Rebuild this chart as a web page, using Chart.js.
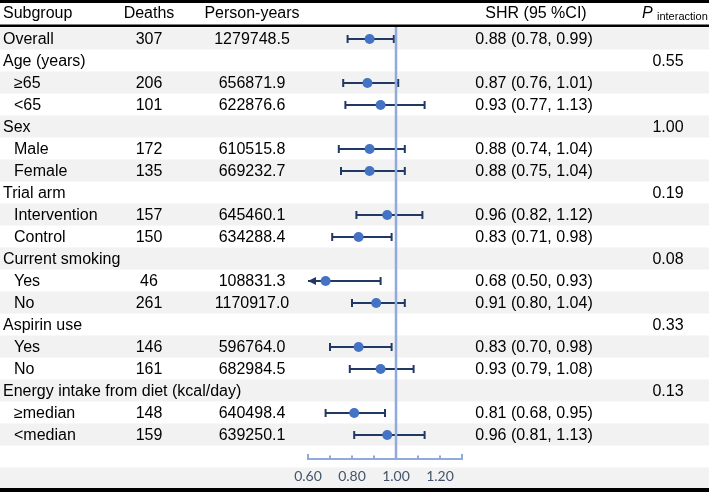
<!DOCTYPE html>
<html><head><meta charset="utf-8">
<script src="https://cdn.jsdelivr.net/npm/chart.js@4/dist/chart.umd.min.js"></script>
<style>html,body{margin:0;padding:0;background:#fff;}canvas{display:block;}</style>
</head><body>
<canvas id="c" width="709" height="492"></canvas>
<script>
const subgroups = ['Overall','Age (years)','\u226565','<65','Sex','Male','Female','Trial arm','Intervention','Control','Current smoking','Yes','No','Aspirin use','Yes','No','Energy intake from diet (kcal/day)','\u2265median','<median'];
const isSubRow = [false,false,true,true,false,true,true,false,true,true,false,true,true,false,true,true,false,true,true];
const deaths = ['307','','206','101','','172','135','','157','150','','46','261','','146','161','','148','159'];
const personYears = ['1279748.5','','656871.9','622876.6','','610515.8','669232.7','','645460.1','634288.4','','108831.3','1170917.0','','596764.0','682984.5','','640498.4','639250.1'];
const shr =   [0.88,null,0.87,0.93,null,0.88,0.88,null,0.96,0.83,null,0.68,0.91,null,0.83,0.93,null,0.81,0.96];
const lower = [0.78,null,0.76,0.77,null,0.74,0.75,null,0.82,0.71,null,0.50,0.80,null,0.70,0.79,null,0.68,0.81];
const upper = [0.99,null,1.01,1.13,null,1.04,1.04,null,1.12,0.98,null,0.93,1.04,null,0.98,1.08,null,0.95,1.13];
const pInteraction = ['','0.55','','','1.00','','','0.19','','','0.08','','','0.33','','','0.13','',''];
const xTicks = [0.6,0.7,0.8,0.9,1.0,1.1,1.2,1.3];

const FONT = '"Liberation Sans", Arial, sans-serif';
const points = [];
shr.forEach((v,i)=>{ if(v!==null) points.push({x:v,y:i}); });

const tablePlugin = {
  id:'table',
  beforeDraw(chart){
    const ctx = chart.ctx, y = chart.scales.y, W = chart.width, H = chart.height;
    ctx.save();
    ctx.fillStyle='#fff'; ctx.fillRect(0,0,W,H);
    const rowH = Math.abs(y.getPixelForValue(1)-y.getPixelForValue(0));
    ctx.fillStyle='#F2F2F2';
    for(let i=0;i<=20;i++){
      if(i===19) continue;
      if(i%2===0){
        const cy=y.getPixelForValue(i)-0.5;
        ctx.fillRect(0,cy-rowH/2,W,rowH);
      }
    }
    ctx.fillStyle='#000';
    ctx.fillRect(0,0,W,3);
    ctx.fillRect(0,24.5,W,2.5);
    ctx.fillRect(0,488,W,4);
    ctx.fillStyle='#000';
    ctx.font='16px '+FONT;
    ctx.textBaseline='middle';
    ctx.textAlign='left'; ctx.fillText('Subgroup',3,14);
    ctx.textAlign='center'; ctx.fillText('Deaths',149,14);
    ctx.fillText('Person-years',252,14);
    ctx.fillText('SHR (95 %CI)',536,14);
    ctx.textAlign='left';
    ctx.font='italic 16px '+FONT; ctx.fillText('P',642,14);
    ctx.font='11px '+FONT; ctx.fillText('interaction',657,17);
    ctx.font='16px '+FONT;
    subgroups.forEach((s,i)=>{
      const cy=y.getPixelForValue(i)+1;
      ctx.textAlign='left';
      ctx.fillText(s,isSubRow[i]?14:3,cy);
      ctx.textAlign='center';
      if(deaths[i]) ctx.fillText(deaths[i],149,cy);
      if(personYears[i]) ctx.fillText(personYears[i],252,cy);
      if(shr[i]!==null) ctx.fillText(shr[i].toFixed(2)+' ('+lower[i].toFixed(2)+', '+upper[i].toFixed(2)+')',534,cy);
      if(pInteraction[i]) ctx.fillText(pInteraction[i],668,cy);
    });
    ctx.restore();
  },
  beforeDatasetsDraw(chart){
    const ctx=chart.ctx, x=chart.scales.x, y=chart.scales.y, a=chart.chartArea;
    ctx.save();
    ctx.strokeStyle='#1F3864'; ctx.fillStyle='#1F3864'; ctx.lineWidth=2;
    shr.forEach((v,i)=>{
      if(v===null) return;
      const cy=y.getPixelForValue(i);
      const lo=Math.max(lower[i],x.min), hi=Math.min(upper[i],x.max);
      const x1=x.getPixelForValue(lo), x2=x.getPixelForValue(hi);
      ctx.beginPath(); ctx.moveTo(x1,cy); ctx.lineTo(x2,cy); ctx.stroke();
      const cap=(px)=>{ctx.beginPath();ctx.moveTo(px,cy-4);ctx.lineTo(px,cy+4);ctx.stroke();};
      if(lower[i]<x.min){
        ctx.beginPath(); ctx.moveTo(x1,cy); ctx.lineTo(x1+8,cy-4); ctx.lineTo(x1+8,cy+4); ctx.closePath(); ctx.fill();
      } else cap(x1);
      if(upper[i]>x.max){
        ctx.beginPath(); ctx.moveTo(x2,cy); ctx.lineTo(x2-8,cy-4); ctx.lineTo(x2-8,cy+4); ctx.closePath(); ctx.fill();
      } else cap(x2);
    });
    const rx=x.getPixelForValue(1.0);
    ctx.strokeStyle='#8FAADC'; ctx.lineWidth=2.5;
    ctx.beginPath(); ctx.moveTo(rx,27); ctx.lineTo(rx,a.bottom); ctx.stroke();
    ctx.restore();
  },
  afterDraw(chart){
    const ctx=chart.ctx, x=chart.scales.x, a=chart.chartArea;
    ctx.save();
    ctx.strokeStyle='#8FAADC'; ctx.lineWidth=2;
    x.ticks.forEach((t,k)=>{
      const px=x.getPixelForValue(t.value);
      const len=(k===0||k===x.ticks.length-1)?5:3.5;
      ctx.beginPath(); ctx.moveTo(px,a.bottom); ctx.lineTo(px,a.bottom-len); ctx.stroke();
    });
    ctx.restore();
  }
};

new Chart(document.getElementById('c'),{
  type:'scatter',
  data:{datasets:[{data:points,backgroundColor:'#4472C4',borderWidth:0,pointRadius:5,pointHoverRadius:5}]},
  options:{
    responsive:false, animation:false, devicePixelRatio:1,
    layout:{padding:{left:308,right:247,top:28,bottom:0}},
    plugins:{legend:{display:false},tooltip:{enabled:false}},
    scales:{
      x:{type:'linear',min:0.6,max:1.3,
        afterBuildTicks(s){ s.ticks = xTicks.map(v=>({value:v})); },
        afterFit(s){ s.height=33; },
        grid:{display:false},
        border:{display:true,color:'#8FAADC',width:2},
        ticks:{padding:1,color:'#44546A',maxRotation:0,minRotation:0,autoSkip:false,
          font:{family:'Lato, "Open Sans", sans-serif',size:14},
          callback:(v)=> (Math.round(v*10)%2===0 && v<1.25) ? Number(v).toFixed(2) : ''}
      },
      y:{type:'linear',reverse:true,display:false,min:-11/22,max:420/22}
    }
  },
  plugins:[tablePlugin]
});
</script>
</body></html>
